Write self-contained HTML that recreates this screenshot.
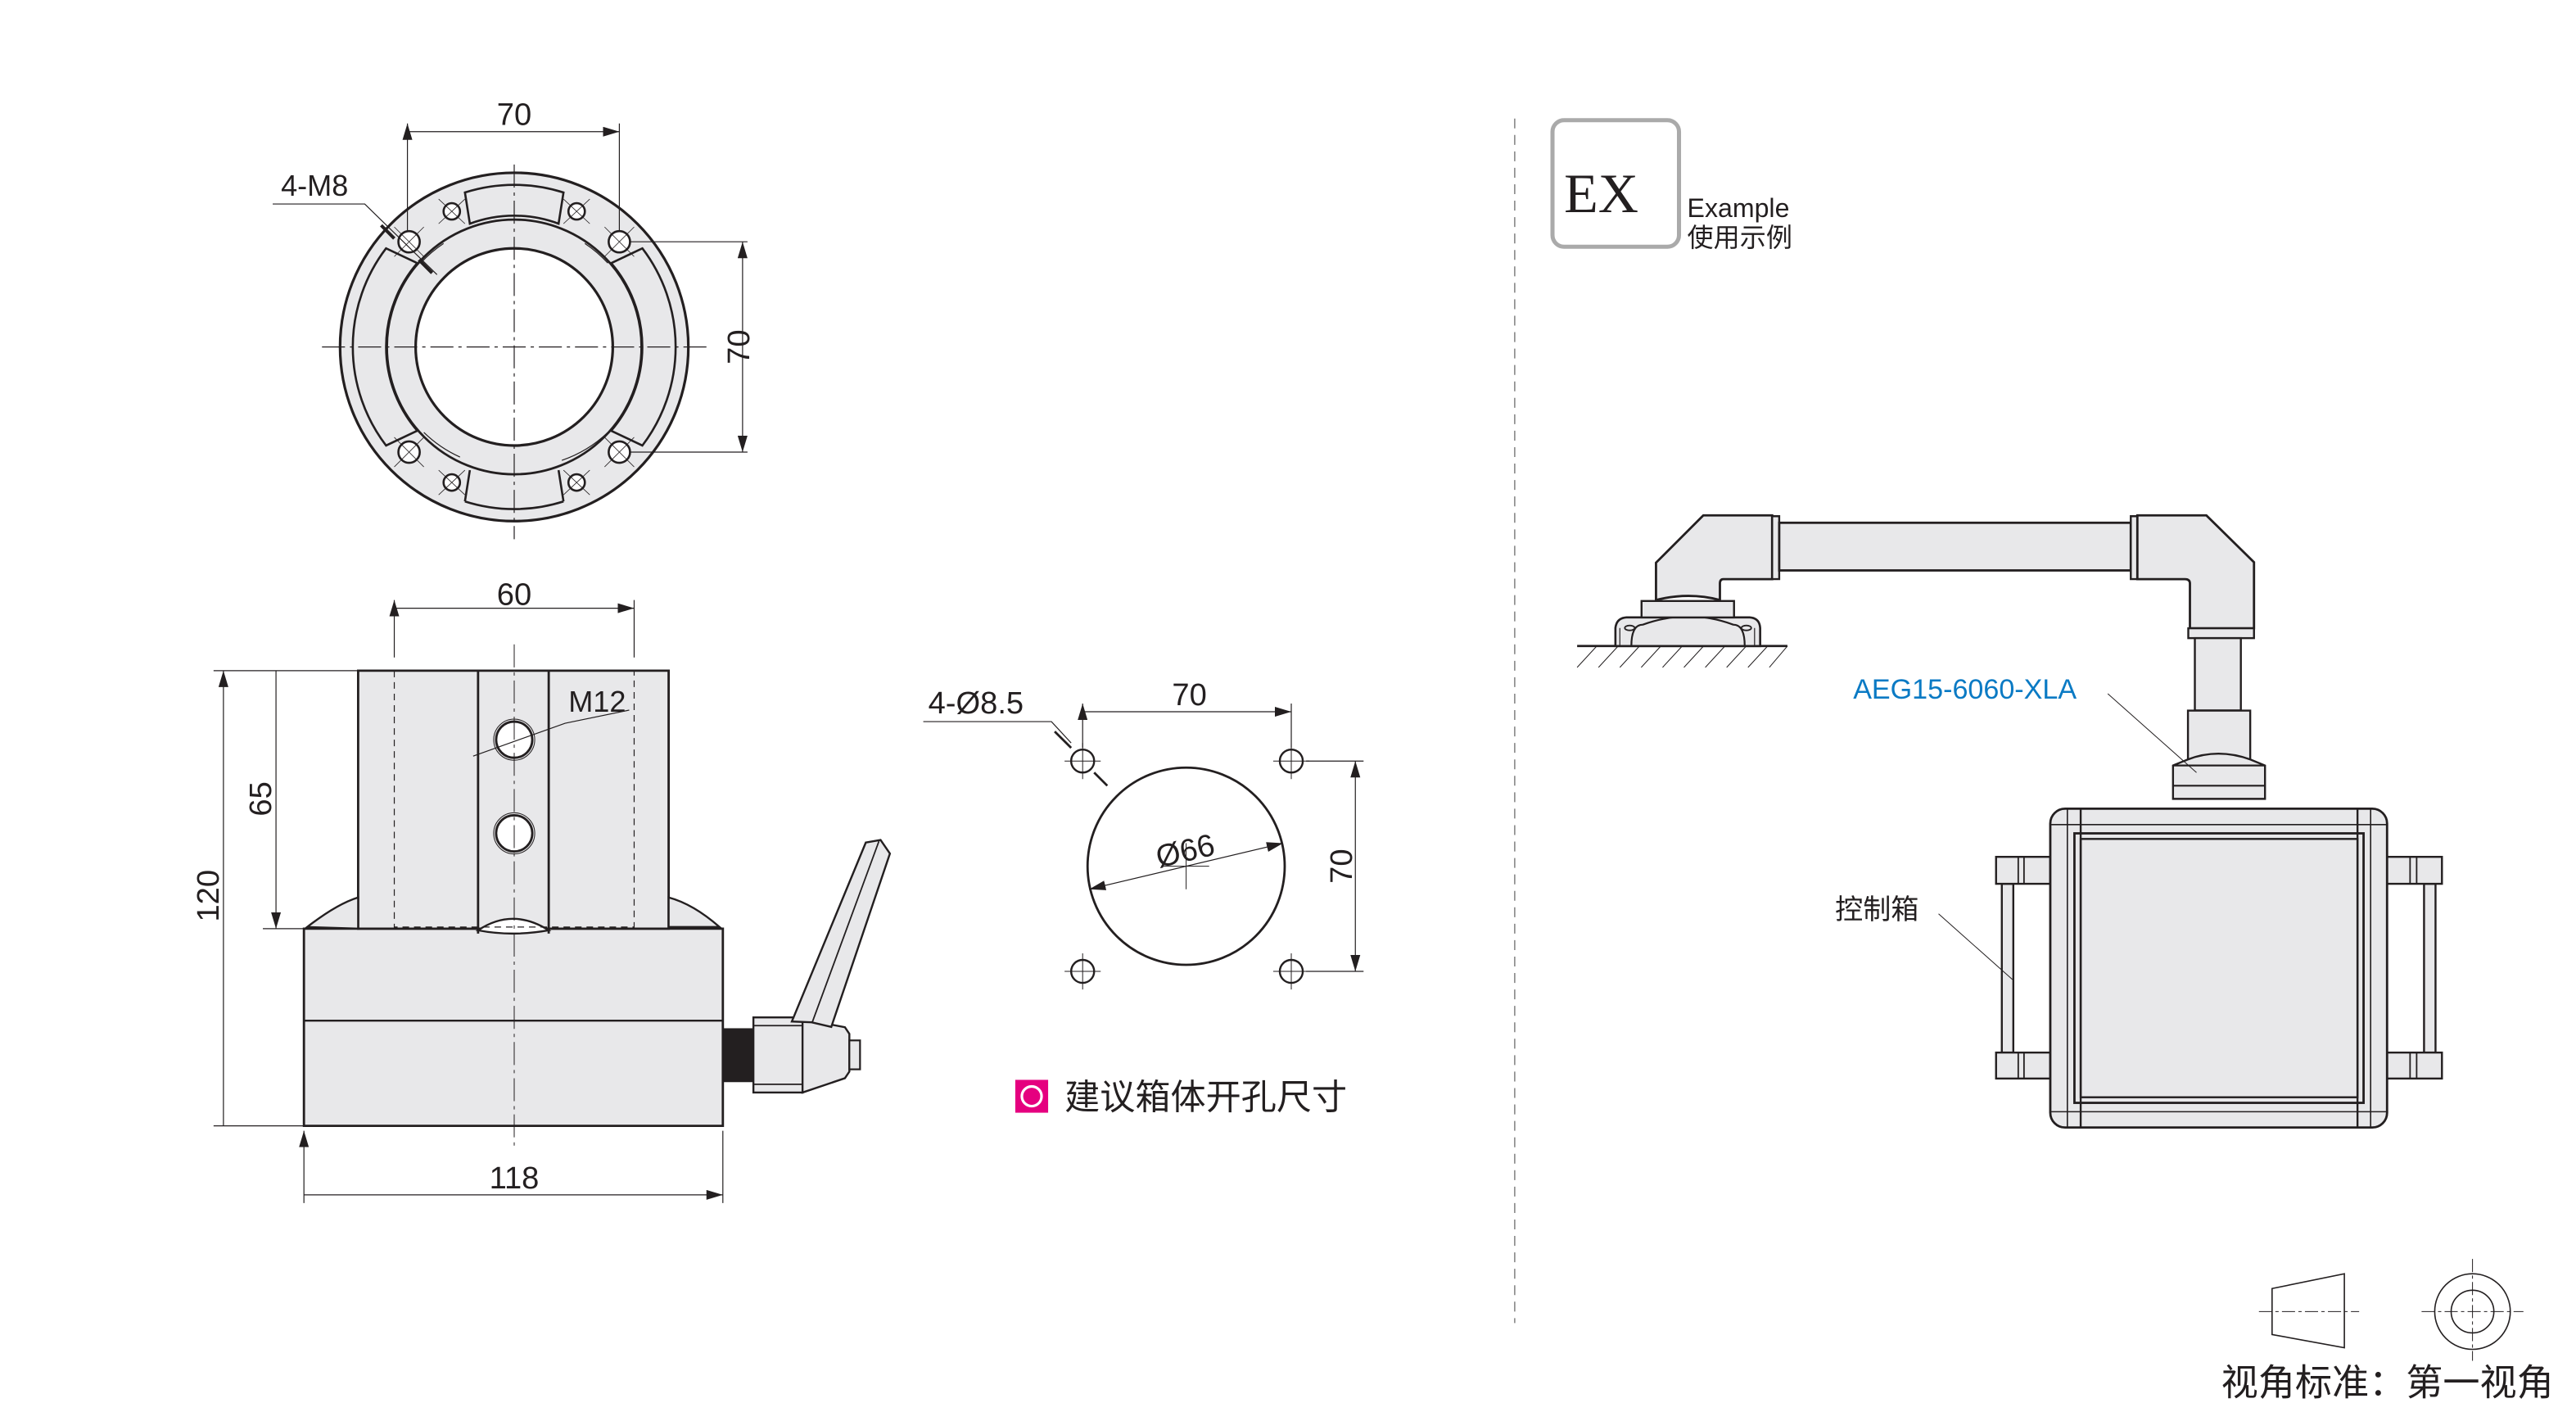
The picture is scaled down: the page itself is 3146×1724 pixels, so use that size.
<!DOCTYPE html>
<html><head><meta charset="utf-8"><style>
html,body{margin:0;padding:0;background:#fff;}
svg{display:block;}
text{font-family:"Liberation Sans","Noto Sans CJK SC",sans-serif;fill:#231f20;}
</style></head><body>
<svg width="3146" height="1724" viewBox="0 0 1568 859" xmlns="http://www.w3.org/2000/svg">
<defs>
<marker id="a" viewBox="0 0 10 6" refX="10" refY="3" markerWidth="10" markerHeight="6" orient="auto-start-reverse" markerUnits="userSpaceOnUse"><path d="M0,0L10,3L0,6z" fill="#231f20"/></marker>
</defs>
<g stroke="#231f20" fill="none" stroke-width="0.8">
<!-- TOP VIEW -->
<circle cx="313" cy="211" r="106" fill="#e8e8ea" stroke-width="1.6"/>
<g fill="#e8e8ea" stroke-width="1.3">
<path d="M235,151 A99,99 0 0 0 235,271 L254,262 A78,78 0 0 1 254,160z"/>
<path d="M391,151 A99,99 0 0 1 391,271 L372,262 A78,78 0 0 0 372,160z"/>
<path d="M283,117 A99,99 0 0 1 343,117 L340,136 A77,77 0 0 0 286,136z"/>
<path d="M283,305 A99,99 0 0 0 343,305"/>
<path d="M283,305 L286,286 M343,305 L340,286"/>
</g>
<circle cx="313" cy="211" r="77.5" fill="#e8e8ea" stroke-width="1.4"/>
<path d="M256,160 A76,76 0 0 1 270,148 M356,148 A76,76 0 0 1 370,160 M258,263 A76,76 0 0 0 280,278 M370,263 A76,76 0 0 1 342,280" stroke-width="0.6"/>
<circle cx="313" cy="211" r="60" fill="#fff" stroke-width="1.6"/>
<g fill="#fff" stroke-width="1.3">
<circle cx="249" cy="147" r="6.5"/><circle cx="377" cy="147" r="6.5"/>
<circle cx="249" cy="275" r="6.5"/><circle cx="377" cy="275" r="6.5"/>
<circle cx="275" cy="128.5" r="5"/><circle cx="351" cy="128.5" r="5"/>
<circle cx="275" cy="293.5" r="5"/><circle cx="351" cy="293.5" r="5"/>
</g>
<g stroke-width="0.4">
<path d="M240,138 L258,156 M240,156 L258,138 M368,138 L386,156 M368,156 L386,138 M240,266 L258,284 M240,284 L258,266 M368,266 L386,284 M368,284 L386,266"/>
<path d="M267,121 L283,136 M267,136 L283,121 M343,121 L359,136 M343,136 L359,121 M267,286 L283,301 M267,301 L283,286 M343,286 L359,301 M343,301 L359,286"/>
</g>
<path d="M196,211 H430 M313,100 V328" stroke-dasharray="14,3,2,3" stroke-width="0.6"/>
<path d="M248,75 V140 M377,75 V140 M248,80 H377" marker-start="url(#a)" marker-end="url(#a)" stroke-width="0.6"/>
<path d="M383,147 H455 M383,275 H455" stroke-width="0.6"/>
<path d="M452,147 V275" marker-start="url(#a)" marker-end="url(#a)" stroke-width="0.6"/>
<path d="M166,124 H222 L266,167" stroke-width="0.6"/>
<path d="M232,137 L240,145 M255,158 L263,166" stroke-width="2"/>
<!-- FRONT VIEW -->
<path d="M185,565 H440 V685 H185z" fill="#e8e8ea" stroke-width="1.4"/>
<path d="M185,621 H440" stroke-width="1.2"/>
<path d="M218,408 H407 V565 H218z" fill="#e8e8ea" stroke-width="1.4"/>
<path d="M187,564 Q205,550 218,546 V565z M407,546 Q422,550 438,564 H407z" fill="#e8e8ea" stroke-width="1.2"/>
<path d="M291,408 V568 M334,408 V568" stroke-width="1.4"/>
<path d="M291,566 Q312,552 334,566 Q312,570 291,566z" fill="#fff" stroke-width="1.2"/>
<path d="M240,408 V564 H386 V408" stroke-dasharray="4,3" stroke-width="0.6"/>
<circle cx="313" cy="450" r="11" fill="#fff" stroke-width="1.4"/><circle cx="313" cy="450" r="12.5" stroke-width="0.5"/>
<circle cx="313" cy="507" r="11" fill="#fff" stroke-width="1.4"/><circle cx="313" cy="507" r="12.5" stroke-width="0.5"/>
<path d="M313,392 V700" stroke-dasharray="14,3,2,3" stroke-width="0.5"/>
<path d="M288,460 L344,440 L383,432" stroke-width="0.6"/>
<path d="M240,365 V400 M386,365 V400 M240,370 H386" marker-start="url(#a)" marker-end="url(#a)" stroke-width="0.6"/>
<path d="M130,408 H218 M130,685 H185 M160,565 H218" stroke-width="0.6"/>
<path d="M136,408 V685 M168,408 V565" marker-start="url(#a)" marker-end="url(#a)" stroke-width="0.6"/>
<path d="M185,688 V732 M440,688 V732 M185,727 H440" marker-start="url(#a)" marker-end="url(#a)" stroke-width="0.6"/>
<!-- handle -->
<rect x="440" y="626" width="19" height="32" fill="#231f20"/>
<rect x="458.6" y="619" width="30" height="45.7" fill="#e8e8ea" stroke-width="1.2"/>
<path d="M458.6,624 H488.5 M458.6,659.7 H488.5" stroke-width="0.9"/>
<path d="M488.5,620 L514.3,625 L517,629 V652 L514.3,656 L488.5,664.7z" fill="#e8e8ea" stroke-width="1.2"/>
<rect x="517" y="633" width="6.5" height="17.6" fill="#e8e8ea" stroke-width="1.1"/>
<path d="M482,621.5 L527,512.6 L536,511 L541.7,519.3 L506,624.8 L494,622z" fill="#e8e8ea" stroke-width="1.2"/>
<path d="M494.3,622.3 L535,511.8" stroke-width="0.9"/>
<!-- CUTOUT -->
<circle cx="722" cy="527" r="60" fill="#fff" stroke-width="1.4"/>
<g fill="#fff" stroke-width="1.2"><circle cx="659" cy="463" r="7"/><circle cx="786" cy="463" r="7"/><circle cx="659" cy="591" r="7"/><circle cx="786" cy="591" r="7"/></g>
<path d="M648,463 H670 M659,452 V474 M775,463 H797 M786,452 V474 M648,591 H670 M659,580 V602 M775,591 H797 M786,580 V602 M708,527 H736 M722,513 V541" stroke-width="0.5"/>
<path d="M663,541 L781,513" marker-start="url(#a)" marker-end="url(#a)" stroke-width="0.6"/>
<path d="M659,428 V455 M786,428 V455 M659,433 H786" marker-start="url(#a)" marker-end="url(#a)" stroke-width="0.6"/>
<path d="M795,463 H830 M795,591 H830" stroke-width="0.6"/>
<path d="M825,463 V591" marker-start="url(#a)" marker-end="url(#a)" stroke-width="0.6"/>
<path d="M562,439 H640 L652,452" stroke-width="0.6"/>
<path d="M642,445 L652,455 M666,470 L674,478" stroke-width="1.4"/>
<!-- divider -->
<path d="M922,72 V805" stroke-dasharray="6,4" stroke="#888" stroke-width="0.8"/>
<!-- EXAMPLE: base -->
<path d="M960,393 H1088" stroke-width="1.4"/>
<g stroke-width="0.5"><path d="M960,406 L972,393 M973,406 L985,393 M986,406 L998,393 M999,406 L1011,393 M1012,406 L1024,393 M1025,406 L1037,393 M1038,406 L1050,393 M1051,406 L1063,393 M1064,406 L1076,393 M1077,406 L1088,393"/></g>
<path d="M983.3,393 V382 Q984,376 990,375.6 H1065 Q1071,376 1071.4,382 V393z" fill="#e8e8ea" stroke-width="1.3"/>
<path d="M993,393 Q993,380 1000,380 Q1028,370 1055,380 Q1062,380 1062,393" stroke-width="1.1"/>
<path d="M986,393 V382 M1068,393 V382" stroke-width="0.6"/>
<ellipse cx="992" cy="382" rx="3" ry="1.5" stroke-width="0.9"/><ellipse cx="1063" cy="382" rx="3" ry="1.5" stroke-width="0.9"/>
<rect x="999.2" y="365.6" width="56.3" height="10" fill="#e8e8ea" stroke-width="1.2"/>
<path d="M1008,365 V342.3 L1036.8,313.5 H1078.7 V352.3 H1049 Q1046.9,352.3 1046.9,355 V365 Q1028,360 1008,365z" fill="#e8e8ea" stroke-width="1.4"/>
<path d="M1078.7,314 H1083 V352.3 H1078.7z" fill="#e8e8ea" stroke-width="1.2"/>
<rect x="1083" y="318" width="214" height="29" fill="#e8e8ea" stroke-width="1.4"/>
<path d="M1297,314 H1301 V352.3 H1297z" fill="#e8e8ea" stroke-width="1.2"/>
<path d="M1301,313.5 H1343 L1372,342 V382.2 H1333 V355 Q1333,352.3 1330,352.3 H1301z" fill="#e8e8ea" stroke-width="1.4"/>
<rect x="1332" y="382.2" width="40" height="6" fill="#e8e8ea" stroke-width="1.2"/>
<rect x="1336" y="388.2" width="28" height="44" fill="#e8e8ea" stroke-width="1.2"/>
<rect x="1331.8" y="432.3" width="37.9" height="30" fill="#e8e8ea" stroke-width="1.2"/>
<path d="M1322.7,465.7 L1331.8,462 Q1350,455 1369.7,462 L1378.7,465.7 V486 H1322.7z" fill="#e8e8ea" stroke-width="1.2"/>
<path d="M1322.7,465.7 H1378.7 M1322.7,478 H1378.7" stroke-width="1.1"/>
<path d="M1283,422 L1337,470" stroke-width="0.5"/>
<!-- box handles -->
<g fill="#e8e8ea" stroke-width="1.2">
<rect x="1218.5" y="537.7" width="7" height="102.7"/>
<rect x="1475.5" y="537.7" width="7" height="102.7"/>
<rect x="1215" y="521.3" width="33" height="16.4"/><rect x="1215" y="640.4" width="33" height="15.8"/>
<rect x="1453" y="521.3" width="33.4" height="16.4"/><rect x="1453" y="640.4" width="33.4" height="15.8"/>
</g>
<path d="M1228.5,521.3 V537.7 M1232,521.3 V537.7 M1228.5,640.4 V656.2 M1232,640.4 V656.2 M1467,521.3 V537.7 M1471,521.3 V537.7 M1467,640.4 V656.2 M1471,640.4 V656.2" stroke-width="0.9"/>
<!-- box -->
<rect x="1248" y="492" width="205" height="194" rx="9" fill="#e8e8ea" stroke-width="1.4"/>
<path d="M1248,501.7 H1453 M1248,676.4 H1453 M1258.4,492 V686 M1443,492 V686" stroke-width="0.8"/>
<path d="M1266.5,492 V686 M1435,492 V686" stroke-width="1.2"/>
<rect x="1262.7" y="507" width="176" height="164" stroke-width="1.4"/>
<rect x="1266.5" y="510.4" width="168.5" height="157.2" stroke-width="1.2"/>
<path d="M1180,556 L1225,596" stroke-width="0.5"/>
<!-- EX badge -->
<rect x="945" y="73" width="77" height="77" rx="7" fill="#fff" stroke="#aaa" stroke-width="2.5"/>
<!-- view symbol -->
<path d="M1383,784 L1427,775 V820 L1383,812z" stroke-width="0.8"/>
<path d="M1375,798 H1436" stroke-dasharray="8,2,2,2" stroke-width="0.5"/>
<circle cx="1505" cy="798" r="23" stroke-width="0.8"/><circle cx="1505" cy="798" r="13" stroke-width="0.8"/>
<path d="M1474,798 H1536 M1505,766 V828" stroke-dasharray="8,2,2,2" stroke-width="0.5"/>
</g>
<!-- TEXT -->
<text x="313" y="76" font-size="19" text-anchor="middle">70</text>
<text x="171" y="119" font-size="18">4-M8</text>
<text x="449" y="211" font-size="19" text-anchor="middle" transform="rotate(-90 449 211)" dy="7">70</text>
<text x="313" y="368" font-size="19" text-anchor="middle">60</text>
<text x="346" y="433" font-size="18">M12</text>
<text x="158" y="486" font-size="19" text-anchor="middle" transform="rotate(-90 158 486)" dy="7">65</text>
<text x="126" y="545" font-size="19" text-anchor="middle" transform="rotate(-90 126 545)" dy="7">120</text>
<text x="313" y="723" font-size="19" text-anchor="middle">118</text>
<text x="565" y="434" font-size="19">4-Ø8.5</text>
<text x="724" y="429" font-size="19" text-anchor="middle">70</text>
<text x="722" y="524" font-size="19" text-anchor="middle" transform="rotate(-13 722 520)">Ø66</text>
<text x="816" y="527" font-size="19" text-anchor="middle" transform="rotate(-90 816 527)" dy="7">70</text>
<rect x="618" y="657" width="20" height="20" fill="#e5007f"/>
<circle cx="628" cy="667" r="6" fill="none" stroke="#fff" stroke-width="1.6"/>
<text x="648" y="675" font-size="21.5">建议箱体开孔尺寸</text>
<text x="952" y="129" font-size="34" style="font-family:'Liberation Serif',serif" fill="#3a3a3a">EX</text>
<text x="1027" y="132" font-size="16">Example</text>
<text x="1027" y="150" font-size="16">使用示例</text>
<text x="1128" y="425" font-size="17" style="fill:#0a7ac4">AEG15-6060-XLA</text>
<text x="1117" y="559" font-size="17">控制箱</text>
<text x="1352" y="849" font-size="22.5">视角标准：第一视角</text>
</svg>
</body></html>
